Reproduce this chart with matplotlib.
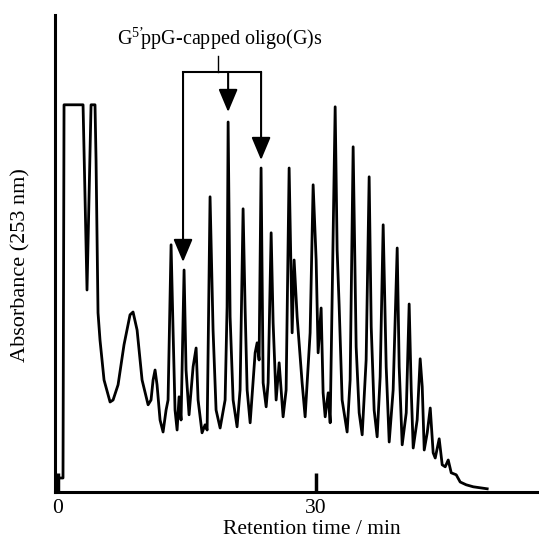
import numpy as np
import matplotlib.pyplot as plt

plt.rcParams['font.family'] = 'Liberation Serif'
plt.rcParams['mathtext.fontset'] = 'custom'
plt.rcParams['mathtext.rm'] = 'Liberation Serif'

# chromatogram trace (time in min, absorbance in arbitrary units)
time = [0, 0.58, 0.70, 2.91, 3.37, 3.84, 4.30, 4.42, 4.65, 4.88, 5.35, 6.05, 6.40, 6.98,
        7.67, 8.37, 8.72, 9.19, 9.77, 10.47, 10.81, 11.05, 11.28, 11.51, 11.86, 12.21,
        12.56, 12.79, 13.14, 13.37, 13.60, 13.84, 14.07, 14.30, 14.65, 14.88, 15.23,
        15.70, 16.05, 16.28, 16.74, 17.09, 17.33, 17.67, 18.02, 18.37, 18.84, 19.42,
        19.65, 19.77, 20.00, 20.35, 20.81, 21.16, 21.51, 21.74, 21.98, 22.33, 22.91,
        23.14, 23.37, 23.60, 23.84, 24.19, 24.42, 24.77, 25.00, 25.35, 25.70, 26.16,
        26.51, 26.86, 27.21, 27.44, 27.79, 28.37, 28.72, 29.30, 29.65, 30.00, 30.23,
        30.58, 30.81, 31.05, 31.40, 31.63, 32.21, 32.44, 32.67, 33.02, 33.60, 33.95,
        34.30, 34.65, 35.00, 35.35, 35.81, 36.16, 36.40, 36.74, 37.09, 37.44, 37.79,
        38.14, 38.49, 38.95, 39.42, 39.65, 40.00, 40.47, 40.81, 41.05, 41.28, 41.74,
        42.09, 42.33, 42.56, 42.91, 43.26, 43.60, 43.84, 44.30, 44.65, 45.00, 45.35,
        45.70, 46.28, 46.74, 47.44, 48.26, 49.88]
absorb = [3.5, 3.5, 96.8, 96.8, 50.5, 96.8, 96.8, 83, 44.8, 38, 28, 22.5, 23, 26.8,
          36.8, 44.3, 45, 40.5, 28, 21.8, 23, 28, 30.5, 26.8, 18, 15,
          20.5, 23, 61.8, 40.5, 20.5, 15.5, 23.8, 18, 55.5, 30.5, 19.3,
          31.3, 36, 23, 14.8, 16.8, 15.5, 73.8, 40.5, 20.5, 16, 23,
          46.3, 92.5, 43.8, 23, 16.3, 25.5, 70.8, 46.3, 25.5, 17.3, 34.8,
          37.3, 33, 81, 27.3, 21.3, 27.3, 64.8, 42.3, 23, 32.3, 18.8,
          25.5, 81, 39.8, 58, 43.8, 27.3, 18.8, 39.8, 76.8, 58, 34.8,
          46, 24.8, 18.8, 24.8, 17.3, 96.3, 60.5, 46.8, 23, 15, 28,
          86.3, 36.3, 19.8, 14.3, 33, 78.8, 41.3, 20.5, 13.8, 28.8, 66.8,
          31.3, 12.5, 25.5, 61, 31.3, 11.8, 19.8, 47, 25.5, 11, 18,
          33.3, 26.3, 10.5, 14.8, 21, 9.8, 8.5, 13.3, 6.8, 6.3, 8,
          4.8, 4.3, 2.5, 1.8, 1.3, 0.8]

# arrows pointing at the G5'ppG-capped oligo(G) peaks
arrow_x = [14.53, 19.77, 23.60]
arrow_tip = [57.5, 95, 83]
bracket_y = 105
stem_x = 18.6

fig = plt.figure(figsize=(5.39, 5.43), dpi=100)
ax = fig.add_axes([55 / 539, 51 / 543, 484 / 539, 477 / 543])

ax.plot(time, absorb, color='black', lw=2.0, solid_joinstyle='round')

ax.plot([arrow_x[0], arrow_x[-1]], [bracket_y, bracket_y], color='black', lw=1.5)
ax.plot([stem_x, stem_x], [bracket_y, 109], color='black', lw=1.0)
for xa, tip in zip(arrow_x, arrow_tip):
    ax.annotate('', xy=(xa, tip), xytext=(xa, bracket_y),
                arrowprops=dict(arrowstyle='-|>,head_length=1.0,head_width=0.42',
                                mutation_scale=14, color='black', lw=1.5,
                                shrinkA=0, shrinkB=0))
ax.text(18.84, 111.8, "G$^{\\mathrm{5\u2019}}\\!$ppG-capped oligo(G)s", ha='center',
        va='baseline', fontsize=14.5)

ax.set_xlim(-0.35, 55.9)
ax.set_ylim(0, 119.25)
ax.set_xticks([0, 30])
ax.set_yticks([])
ax.tick_params(axis='x', direction='in', length=14, width=2.5, labelsize=15.5, pad=5)
ax.spines['top'].set_visible(False)
ax.spines['right'].set_visible(False)
ax.spines['left'].set_linewidth(2.2)
ax.spines['bottom'].set_linewidth(2.2)

ax.set_xlabel('Retention time / min', fontsize=15.5)
ax.xaxis.set_label_coords(0.531, -0.058)
ax.set_ylabel('Absorbance (253 nm)', fontsize=16)
ax.yaxis.set_label_coords(-0.05, 0.476)

fig.savefig('out.png', dpi=100)
